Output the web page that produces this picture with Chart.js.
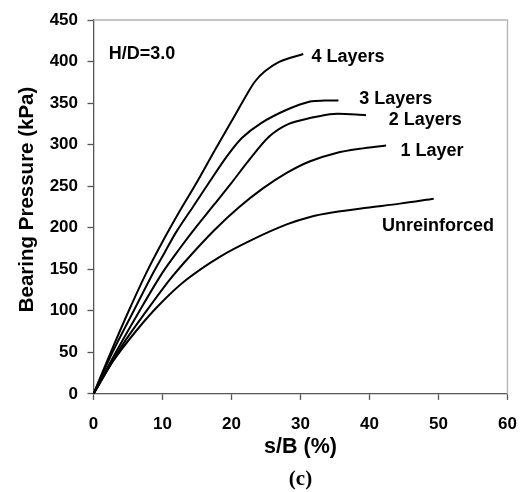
<!DOCTYPE html>
<html>
<head>
<meta charset="utf-8">
<script src="https://cdn.jsdelivr.net/npm/chart.js@4.4.1/dist/chart.umd.min.js"></script>
<style>
  html, body { margin: 0; padding: 0; background: #fff; }
  #wrap { width: 523px; height: 492px; }
</style>
</head>
<body>
<div id="wrap"><canvas id="chart" width="523" height="492"></canvas></div>
<script>
// tick values
const xTickValues = [0, 10, 20, 30, 40, 50, 60];
const yTickValues = [0, 50, 100, 150, 200, 250, 300, 350, 400, 450];

// curves: s/B (%) vs bearing pressure (kPa)
const unreinforcedX = [0, 2.8, 6.2, 9.5, 13.4, 18.3, 23.1, 28, 31.4, 34.8, 39.6, 44.4, 49.3];
const unreinforcedY = [0, 39, 76, 107, 137, 165, 186, 204, 213, 218.5, 224, 229, 235];

const oneLayerX = [0, 4.2, 7.6, 11, 14, 17.5, 21, 24.5, 28, 31.4, 35.2, 38.6, 42.4];
const oneLayerY = [0, 59, 99, 137, 166, 197, 224, 247, 266, 280, 290, 295, 299];

const twoLayersX = [0, 3.3, 6.6, 10, 12.5, 14.6, 17.5, 20, 22.6, 25.5, 28.3, 31.4, 34.8, 39.5];
const twoLayersY = [0, 51, 99, 146, 175, 198, 228, 254, 282, 310, 325, 332, 337, 335.5];

const threeLayersX = [0, 2.8, 5.7, 8.6, 10.3, 12, 14.4, 16.8, 19.25, 21.5, 24.3, 28, 31.4, 33.5, 35.5];
const threeLayersY = [0, 51, 98, 145, 170, 195, 225, 255, 285, 308, 326, 342, 352, 353, 353];

const fourLayersX = [0, 2.5, 5, 7.5, 10, 12.5, 15, 17.5, 20, 22.2, 23.4, 24.8, 27, 30.4];
const fourLayersY = [0, 50, 98, 143, 183, 220, 255, 292, 328, 360, 376, 388, 400, 409];

// text labels placed in data units (left edge, vertical middle)
const curveLabels = [
    { text: 'H/D=3.0', x: 2.2, y: 409 },
    { text: '4 Layers', x: 31.6, y: 405 },
    { text: '3 Layers', x: 38.5, y: 355 },
    { text: '2 Layers', x: 42.8, y: 330 },
    { text: '1 Layer', x: 44.5, y: 292 },
    { text: 'Unreinforced', x: 41.8, y: 202 }
];
const yAxisTitle = 'Bearing Pressure (kPa)';

function toPoints(xs, ys) {
    return xs.map((x, i) => ({ x: x, y: ys[i] }));
}

function makeSet(label, xs, ys) {
    return {
        label: label,
        data: toPoints(xs, ys),
        borderColor: '#000',
        borderWidth: 2,
        pointRadius: 0,
        fill: false,
        tension: 0.3
    };
}

const sansBold = { family: "'Liberation Sans', Arial, sans-serif", weight: 'bold' };

// gray frame on top and right, curve labels, y title
const framePlugin = {
    id: 'framePlugin',
    beforeDatasetsDraw(chart) {
        const { ctx, chartArea: a } = chart;
        ctx.save();
        ctx.strokeStyle = '#b4b4b4';
        ctx.lineWidth = 1.3;
        ctx.beginPath();
        ctx.moveTo(a.left, a.top);
        ctx.lineTo(a.right, a.top);
        ctx.lineTo(a.right, a.bottom);
        ctx.stroke();
        ctx.restore();
    },
    afterDatasetsDraw(chart) {
        const { ctx, scales, chartArea: a } = chart;
        ctx.save();
        ctx.fillStyle = '#000';
        ctx.font = "bold 18px 'Liberation Sans', Arial, sans-serif";
        ctx.textAlign = 'left';
        ctx.textBaseline = 'middle';
        curveLabels.forEach(l => {
            ctx.fillText(l.text, scales.x.getPixelForValue(l.x), scales.y.getPixelForValue(l.y));
        });
        // y axis title, sitting a bit above the middle of the axis like the original
        ctx.translate(27, (a.top + a.bottom) / 2 - 7.5);
        ctx.rotate(-Math.PI / 2);
        ctx.textAlign = 'center';
        ctx.font = "bold 20.5px 'Liberation Sans', Arial, sans-serif";
        ctx.fillText(yAxisTitle, 0, 0);
        ctx.restore();
    }
};

const chart = new Chart(document.getElementById('chart').getContext('2d'), {
    type: 'line',
    data: {
        datasets: [
            makeSet('Unreinforced', unreinforcedX, unreinforcedY),
            makeSet('1 Layer', oneLayerX, oneLayerY),
            makeSet('2 Layers', twoLayersX, twoLayersY),
            makeSet('3 Layers', threeLayersX, threeLayersY),
            makeSet('4 Layers', fourLayersX, fourLayersY)
        ]
    },
    options: {
        responsive: false,
        animation: false,
        devicePixelRatio: 1,
        layout: { padding: { top: 20, right: 15.5, left: 0, bottom: 0 } },
        scales: {
            x: {
                type: 'linear',
                min: 0,
                max: 60,
                afterBuildTicks: s => { s.ticks = xTickValues.map(v => ({ value: v })); },
                afterFit: s => { s.height = 72.9; s.paddingLeft = 0; s.paddingRight = 0; },
                ticks: { color: '#000', font: { ...sansBold, size: 17 }, padding: 14 },
                grid: { drawOnChartArea: false, drawTicks: true, tickLength: 6, tickColor: '#555', tickWidth: 1.3 },
                border: { display: true, color: '#555', width: 1.3 },
                title: {
                    display: true,
                    text: 's/B (%)',
                    color: '#000',
                    font: { ...sansBold, size: 21.5 },
                    padding: { top: 0, bottom: 7 }
                }
            },
            y: {
                type: 'linear',
                min: 0,
                max: 450,
                afterBuildTicks: s => { s.ticks = yTickValues.map(v => ({ value: v })); },
                afterFit: s => { s.width = 93.5; s.paddingTop = 0; s.paddingBottom = 0; },
                ticks: { color: '#000', font: { ...sansBold, size: 17 }, padding: 9.5 },
                grid: { drawOnChartArea: false, drawTicks: true, tickLength: 6, tickColor: '#555', tickWidth: 1.3 },
                border: { display: true, color: '#555', width: 1.3 },
                title: { display: false }
            }
        },
        plugins: {
            legend: { display: false },
            tooltip: { enabled: false },
            title: {
                display: true,
                position: 'bottom',
                fullSize: false,
                text: '(c)',
                color: '#000',
                font: { family: "'Liberation Serif', 'Times New Roman', serif", weight: 'bold', size: 21 },
                padding: { top: 0, bottom: 0 }
            }
        }
    },
    plugins: [framePlugin]
});
</script>
</body>
</html>
